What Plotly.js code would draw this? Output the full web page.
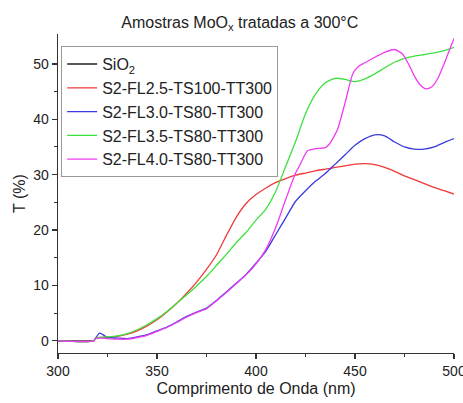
<!DOCTYPE html>
<html>
<head>
<meta charset="utf-8">
<script src="https://cdn.plot.ly/plotly-3.0.1.min.js"></script>
<style>html,body{margin:0;padding:0;background:#fff;}#chart{width:463px;height:403px;}</style>
</head>
<body>
<div id="chart"></div>
<script>
// Wavelength (nm)
const wavelength = [300,318,319,321,325,330,335,340,345,350,355,360,365,370,375,380,385,390,395,400,405,410,415,420,425,430,435,440,445,450,455,460,465,470,475,480,485,490,495,500];

// SiO2 (baseline, hidden under the other curves)
const sio2WL = [300, 318];
const sio2T = [0, 0];

// S2-FL2.5-TS100-TT300
const fl25T = [0,0,0.5,0.6,0.6,0.8,1.2,1.8,2.7,3.8,5.2,6.8,8.6,10.6,12.9,15.5,19.0,22.3,24.8,26.4,27.6,28.6,29.3,29.9,30.3,30.7,31.0,31.3,31.6,31.9,32.0,31.8,31.3,30.6,29.8,29.1,28.4,27.7,27.1,26.5];

// S2-FL3.0-TS80-TT300
const fl30T = [0,0,0.5,1.4,0.6,0.5,0.4,0.7,1.1,1.8,2.5,3.4,4.4,5.2,5.9,7.3,8.8,10.4,12.0,14.0,16.2,19.2,22.2,25.2,27.1,28.8,30.2,31.9,33.6,35.3,36.5,37.2,37.0,35.9,35.0,34.6,34.6,35.0,35.8,36.5];

// S2-FL3.5-TS80-TT300
const fl35T = [0,0,0.5,0.6,0.7,0.9,1.3,2.0,2.9,4.0,5.3,6.8,8.3,9.9,11.6,13.6,15.6,17.7,19.6,21.8,23.8,27.0,31.5,36.0,41.0,44.5,46.6,47.4,47.2,46.8,47.3,48.2,49.3,50.3,51.0,51.4,51.7,52.0,52.4,53.0];

// S2-FL4.0-TS80-TT300
const fl40WL = [300,318,319,321,325,330,335,340,345,350,355,360,365,370,375,380,385,390,395,400,405,410,415,420,422,426,430,435,437,441,445,449,452,455,460,465,470,474,477,480,483,486,489,492,495,498,500];
const fl40T = [0,0,0.4,0.5,0.4,0.3,0.3,0.6,1.0,1.7,2.4,3.3,4.3,5.1,5.8,7.2,8.7,10.3,11.9,13.9,16.5,20.5,25.5,30.3,31.6,34.3,34.7,34.9,35.5,38.0,43.0,48.3,49.6,50.2,51.2,52.1,52.6,51.8,50.0,47.8,46.2,45.5,45.9,47.5,50.0,52.8,54.6];

const names = ['SiO<sub>2</sub>','S2-FL2.5-TS100-TT300','S2-FL3.0-TS80-TT300','S2-FL3.5-TS80-TT300','S2-FL4.0-TS80-TT300'];
const colors = ['#222222','#f03a3a','#3a3ae0','#3ee03e','#f03cf0'];
const xs = [sio2WL, wavelength, wavelength, wavelength, fl40WL];
const ys = [sio2T, fl25T, fl30T, fl35T, fl40T];

const traces = names.map((n,i)=>({
  x: xs[i], y: ys[i], name: n, type: 'scatter', mode: 'lines',
  line: {color: colors[i], width: 1.3, shape: 'spline', smoothing: 0.6}
}));

const fam = '"Liberation Sans", Arial, sans-serif';
const font = {family: fam, color: '#222', size: 14};

const layout = {
  width: 463, height: 403,
  margin: {l: 58, r: 9, t: 34, b: 50},
  paper_bgcolor: '#fff', plot_bgcolor: '#fff',
  font: font,
  title: {text: 'Amostras MoO<sub>x</sub> tratadas a 300°C', x: 0.518, xanchor: 'center', y: 0.945, yanchor: 'middle', font: {family: fam, size: 16, color: '#222'}},
  showlegend: true,
  legend: {x: 0.008, y: 0.962, xanchor: 'left', yanchor: 'top', bordercolor: '#999', borderwidth: 1, bgcolor: 'rgba(255,255,255,0)', font: {family: fam, size: 16, color: '#222'}, tracegroupgap: 0},
  xaxis: {
    range: [300, 500], tickvals: [300,350,400,450,500], ticks: 'outside', ticklen: 5, tickwidth: 1.2, tickcolor: '#333',
    minor: {tickvals: [325,375,425,475], ticks: 'outside', ticklen: 3, tickcolor: '#333', tickwidth: 1},
    showline: true, linecolor: '#333', linewidth: 1.3, showgrid: false, zeroline: false, mirror: false,
    ticklabeloverflow: 'allow',
    tickfont: {size: 14}, title: {text: 'Comprimento de Onda (nm)', font: {size: 16}, standoff: 4}
  },
  yaxis: {
    range: [-2.2, 55.4], tickvals: [0,10,20,30,40,50], ticks: 'outside', ticklen: 5, tickwidth: 1.2, tickcolor: '#333',
    minor: {tickvals: [5,15,25,35,45], ticks: 'outside', ticklen: 3, tickcolor: '#333', tickwidth: 1},
    showline: true, linecolor: '#333', linewidth: 1.3, showgrid: false, zeroline: false, mirror: false,
    tickfont: {size: 14}, title: {text: 'T (%)', font: {size: 16}, standoff: 3}
  }
};

Plotly.newPlot('chart', traces, layout, {displayModeBar: false, staticPlot: true});
</script>
</body>
</html>
